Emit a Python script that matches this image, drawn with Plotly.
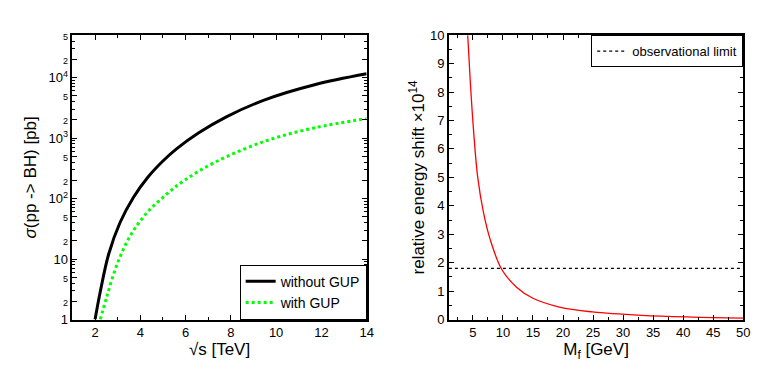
import math

import plotly.graph_objects as go

# left panel: cross section vs sqrt(s)
sqrt_s_nogup = [2.0, 2.23, 2.6, 3.1, 3.7, 4.35, 5.0, 5.6, 6.6, 7.8, 9.5, 11.7, 14.0]
sigma_nogup = [1, 2.88, 12.0, 39.8, 105, 229, 417, 661, 1230, 2240, 4270, 7590, 11480]

sqrt_s_gup = [2.23, 2.52, 2.96, 3.55, 4.28, 5.15, 5.95, 7.3, 9.53, 11.72, 14.0]
sigma_gup = [1, 2.40, 7.94, 24.0, 57.5, 117, 200, 398, 891, 1479, 2089]

# right panel: relative energy shift vs M_f
m_f = [4.13, 4.58, 5.12, 5.8, 6.77, 7.87, 9.78, 12.26, 15.0, 19.4, 24.9, 33.1, 41.4, 50.0]
shift = [10.0, 8.3, 6.6, 5.0, 3.75, 2.82, 1.77, 1.14, 0.75, 0.44, 0.27, 0.15, 0.09, 0.055]
obs_limit = 1.8

log_tickvals = [1, 2, 5, 10, 20, 50, 100, 200, 500, 1000, 2000, 5000, 10000, 20000, 50000]
log_ticktext = ["1", "2", "5", "10", "2", "5", "10<sup>2</sup>", "2", "5",
                "10<sup>3</sup>", "2", "5", "10<sup>4</sup>", "2", "5"]
log_minor = [m * 10 ** e for e in range(0, 5) for m in range(2, 10)]

SMALL = {"2", "5"}
log_ticktext = [
    f"<span style='font-size:9px'>{t}</span>" if t in SMALL else t
    for t in log_ticktext
]

FONT = "Liberation Sans, Arial, sans-serif"

fig = go.Figure()

fig.add_trace(go.Scatter(
    x=sqrt_s_nogup, y=sigma_nogup, mode="lines", name="without GUP",
    line=dict(color="black", width=3, shape="spline"),
    xaxis="x", yaxis="y", legend="legend",
))
fig.add_trace(go.Scatter(
    x=sqrt_s_gup, y=sigma_gup, mode="lines", name="with GUP",
    line=dict(color="#00ff00", width=3, dash="dot", shape="spline"),
    xaxis="x", yaxis="y", legend="legend",
))
fig.add_trace(go.Scatter(
    x=m_f, y=shift, mode="lines", showlegend=False,
    line=dict(color="red", width=1.3, shape="spline"),
    xaxis="x2", yaxis="y2",
))
fig.add_trace(go.Scatter(
    x=[1, 50], y=[obs_limit, obs_limit], mode="lines", name="observational limit",
    line=dict(color="black", width=1.3, dash="dot"),
    xaxis="x2", yaxis="y2", legend="legend2",
))

axis_common = dict(
    showline=True, linecolor="black", linewidth=1.5, mirror="ticks",
    ticks="inside", ticklen=5, tickcolor="black", showgrid=False, zeroline=False,
    tickfont=dict(size=13, color="black"),
)

fig.update_layout(
    width=763, height=383,
    margin=dict(l=0, r=0, t=0, b=0),
    paper_bgcolor="white", plot_bgcolor="white",
    font=dict(family=FONT, color="black"),
    xaxis=dict(
        domain=[0.0852, 0.4744], range=[1, 14], anchor="y",
        tickvals=[2, 4, 6, 8, 10, 12, 14],
        minor=dict(tickvals=[3, 5, 7, 9, 11, 13], ticks="inside", ticklen=3, tickcolor="black"),
        title=dict(text="√s [TeV]", font=dict(size=17), standoff=0),
        **axis_common,
    ),
    yaxis=dict(
        domain=[0.1723, 0.9452], type="log", range=[0, math.log10(50000)], anchor="x",
        tickvals=log_tickvals, ticktext=log_ticktext,
        minor=dict(tickvals=log_minor, ticks="inside", ticklen=3, tickcolor="black"),
        title=dict(text="<i>σ</i>(pp -> BH) [pb]", font=dict(size=17), standoff=8),
        **axis_common,
    ),
    xaxis2=dict(
        domain=[0.5832, 0.9725], range=[1, 50], anchor="y2",
        tickvals=list(range(5, 55, 5)),
        minor=dict(dtick=2.5, tick0=0, ticks="inside", ticklen=3, tickcolor="black"),
        title=dict(text="M<sub>f</sub> [GeV]", font=dict(size=17), standoff=0),
        **axis_common,
    ),
    yaxis2=dict(
        domain=[0.1723, 0.9452], range=[0, 10], anchor="x2",
        tickvals=list(range(0, 11)),
        minor=dict(dtick=0.5, tick0=0, ticks="inside", ticklen=3, tickcolor="black"),
        title=dict(text="relative energy shift ×10<sup>14</sup>", font=dict(size=17), standoff=1),
        **axis_common,
    ),
    legend=dict(
        x=0.4744, y=0.1723, xanchor="right", yanchor="bottom",
        bgcolor="white", bordercolor="black", borderwidth=1,
        font=dict(size=14), tracegroupgap=0,
    ),
    legend2=dict(
        x=0.9725, y=0.9452, xanchor="right", yanchor="top",
        bgcolor="white", bordercolor="black", borderwidth=1,
        font=dict(size=13),
    ),
)

fig.write_html("out.html")
